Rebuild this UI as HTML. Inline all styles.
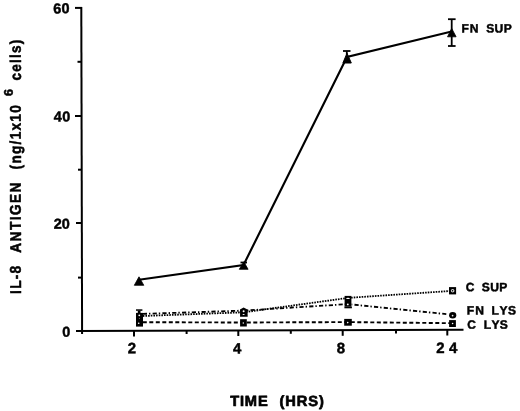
<!DOCTYPE html>
<html><head><meta charset="utf-8">
<style>
html,body{margin:0;padding:0;background:#fff;}
body{width:520px;height:411px;overflow:hidden;}
svg{display:block;}
text{font-family:"Liberation Sans",sans-serif;font-weight:bold;fill:#000;}
</style></head>
<body>
<svg width="520" height="411" viewBox="0 0 520 411">
<rect width="520" height="411" fill="#fff"/>
<g class="t" stroke="#000" stroke-linejoin="round" opacity="0.999">
<text font-size="14.5" transform="translate(53.19,13.39) rotate(-0.17) scale(1.000,1)" x="0.00 8.21" y="0" stroke-width="0.45">60</text>
<text font-size="14.5" transform="translate(53.76,121.54) rotate(-0.17) scale(1.000,1)" x="0.00 8.45" y="0" stroke-width="0.45">40</text>
<text font-size="14.5" transform="translate(53.72,228.74) rotate(-0.17) scale(1.000,1)" x="0.00 8.08" y="0" stroke-width="0.45">20</text>
<text font-size="14.5" transform="translate(62.15,336.74) rotate(-0.17) scale(1.000,1)" x="0.00" y="0" stroke-width="0.45">0</text>
<text font-size="15" transform="translate(127.80,353.29) rotate(-0.17) scale(1.000,1)" x="0.00" y="0" stroke-width="0.45">2</text>
<text font-size="15" transform="translate(232.90,353.41) rotate(-0.17) scale(1.000,1)" x="0.00" y="0" stroke-width="0.45">4</text>
<text font-size="15" transform="translate(336.75,353.16) rotate(-0.17) scale(1.000,1)" x="0.00" y="0" stroke-width="0.45">8</text>
<text font-size="15" transform="translate(436.20,352.99) rotate(-0.17) scale(1.000,1)" x="0.00" y="0" stroke-width="0.45">2</text>
<text font-size="15" transform="translate(449.00,352.91) rotate(-0.17) scale(1.000,1)" x="0.00" y="0" stroke-width="0.45">4</text>
<text font-size="14.7" transform="translate(230.18,406.11) rotate(-0.17) scale(1.000,1)" x="0.00 9.79 14.68 27.73" y="0" stroke-width="0.7">TIME</text>
<text font-size="14.7" transform="translate(279.52,406.11) rotate(-0.17) scale(1.000,1)" x="0.00 5.80 17.33 28.85 39.57" y="0" stroke-width="0.7">(HRS)</text>
<text font-size="12.1" transform="translate(461.62,32.56) rotate(-0.17) scale(1.000,1)" x="0.00 8.24" y="0" stroke-width="0.45">FN</text>
<text font-size="12.1" transform="translate(486.18,32.56) rotate(-0.17) scale(1.000,1)" x="0.00 8.44 17.54" y="0" stroke-width="0.45">SUP</text>
<text font-size="12.1" transform="translate(465.83,291.31) rotate(-0.17) scale(1.000,1)" x="0.00" y="0" stroke-width="0.45">C</text>
<text font-size="12.1" transform="translate(481.78,291.31) rotate(-0.17) scale(1.000,1)" x="0.00 8.44 17.54" y="0" stroke-width="0.45">SUP</text>
<text font-size="12.1" transform="translate(466.72,314.56) rotate(-0.17) scale(1.000,1)" x="0.00 8.44" y="0" stroke-width="0.45">FN</text>
<text font-size="12.1" transform="translate(491.52,314.56) rotate(-0.17) scale(1.000,1)" x="0.00 7.89 16.46" y="0" stroke-width="0.45">LYS</text>
<text font-size="12.1" transform="translate(467.33,328.76) rotate(-0.17) scale(1.000,1)" x="0.00" y="0" stroke-width="0.45">C</text>
<text font-size="12.1" transform="translate(483.82,328.76) rotate(-0.17) scale(1.000,1)" x="0.00 7.69 16.06" y="0" stroke-width="0.45">LYS</text>
<text font-size="15.5" transform="translate(20.93,293.94) rotate(-90.17) scale(0.880,1)" x="0.00 5.76 16.68 23.29" y="0" stroke-width="0.55">IL-8</text>
<text font-size="15.5" transform="translate(20.93,252.76) rotate(-90.17) scale(0.880,1)" x="0.00 12.87 25.73 36.87 42.85 56.58 68.59" y="0" stroke-width="0.55">ANTIGEN</text>
<text font-size="15.5" transform="translate(20.93,169.40) rotate(-90.17) scale(0.880,1)" x="0.00 6.60 17.50 28.41 34.15 44.21 54.26 64.32" y="0" stroke-width="0.55">(ng/1x10</text>
<text font-size="12.5" transform="translate(12.65,95.98) rotate(-90.17) scale(1.000,1)" x="0.00" y="0" stroke-width="0.55">6</text>
<text font-size="15.5" transform="translate(20.93,80.46) rotate(-90.17) scale(0.880,1)" x="0.00 9.96 19.91 25.56 31.20 41.16" y="0" stroke-width="0.55">cells)</text>
</g>
<!-- axes -->
<g stroke="#000" stroke-width="2" fill="none">
  <line x1="81.3" y1="7" x2="82.1" y2="334"/>
  <line x1="76" y1="331" x2="463.5" y2="329.8"/>
  <!-- y major ticks -->
  <line x1="75" y1="7.9" x2="82" y2="7.9"/>
  <line x1="75" y1="116" x2="82" y2="116"/>
  <line x1="76" y1="223" x2="82" y2="223"/>
  <!-- y minor ticks -->
  <line x1="77.5" y1="61.8" x2="82" y2="61.8"/>
  <line x1="78" y1="169.7" x2="82" y2="169.7"/>
  <line x1="78" y1="277.6" x2="82" y2="277.6"/>
  <!-- x major ticks -->
  <line x1="134" y1="331" x2="134" y2="336.5"/>
  <line x1="238.3" y1="330.6" x2="238.3" y2="336"/>
  <line x1="342.7" y1="330.3" x2="342.7" y2="335.8"/>
  <line x1="447.3" y1="330" x2="447.3" y2="335.5"/>
  <!-- x minor ticks -->
  <line x1="186.6" y1="330.8" x2="186.6" y2="334"/>
  <line x1="290.8" y1="330.5" x2="290.8" y2="333.8"/>
  <line x1="396" y1="330.1" x2="396" y2="333.5"/>
</g>
<!-- FN SUP -->
<polyline points="139,279.7 243.5,265 347,57 451.6,31.6" fill="none" stroke="#000" stroke-width="2.1"/>
<g fill="#000">
  <polygon points="139,276.8 134.3,285.3 143.8,285.3" stroke="#000" stroke-width="0.8" stroke-linejoin="round"/>
  <polygon points="243.8,261.8 239.3,269.3 248.1,269.3" stroke="#000" stroke-width="0.8" stroke-linejoin="round"/>
  <polygon points="347,53.2 342.9,63 351.3,63" stroke="#000" stroke-width="1" stroke-linejoin="round"/>
  <polygon points="451.7,28.4 447.5,36.8 456.1,36.8" stroke="#000" stroke-width="0.8" stroke-linejoin="round"/>
</g>
<g stroke="#000" stroke-width="1.8" fill="none">
  <line x1="240.5" y1="262.5" x2="247" y2="262.5"/>
  <line x1="343" y1="51" x2="350.5" y2="51"/><line x1="346.8" y1="51" x2="346.8" y2="55"/>
  <line x1="448" y1="19.2" x2="455.6" y2="19.2"/><line x1="448" y1="46" x2="455.6" y2="46"/>
  <line x1="451.7" y1="19.2" x2="451.7" y2="46"/>
</g>
<!-- C LYS dashed -->
<polyline points="142.8,322.2 243.6,322.5 348,322.1 452.8,323.2" fill="none" stroke="#000" stroke-width="1.9" stroke-dasharray="4 2.5"/>
<!-- C SUP dotted -->
<polyline points="142.8,316 243.6,312.3 348,297.9 452.8,290.8" fill="none" stroke="#000" stroke-width="1.8" stroke-dasharray="1.6 1.05"/>
<!-- FN LYS dash-dot -->
<polyline points="142.8,313.9 243.6,310.6 348,304.1" fill="none" stroke="#000" stroke-width="1.8" stroke-dasharray="4.2 2 1.4 2.2"/>
<polyline points="351.6,304.47 446.3,314.14" fill="none" stroke="#000" stroke-width="1.8" stroke-dasharray="4.2 2 1.4 2.2" stroke-dashoffset="6.9"/>
<!-- markers -->
<g fill="#000">
  <!-- x=2 stack -->
  <rect x="136" y="309.3" width="6.4" height="1.5"/>
  <rect x="137.8" y="310.6" width="2.7" height="2.5"/>
  <rect x="136" y="312.9" width="7" height="13.7"/>
  <!-- x=4 -->
  <polygon points="243.6,307.4 247.5,309.5 247.7,316.7 240.1,316.7 240,309.5"/>
  <rect x="240.1" y="319.2" width="6.7" height="7.3"/>
  <!-- x=8 -->
  <rect x="344.6" y="295.9" width="6.8" height="10.8"/>
  <rect x="344.4" y="306.6" width="7.5" height="1.7"/>
  <rect x="344.2" y="318.9" width="7.6" height="6.8"/>
  <!-- x=24 -->
  <rect x="449" y="287.1" width="7.1" height="7.3"/>
  <ellipse cx="452.7" cy="315.2" rx="3.6" ry="3.2"/>
  <rect x="449.1" y="320.1" width="6.8" height="6.9"/>
</g>
<g fill="#fff">
  <circle cx="139.3" cy="315.3" r="0.9"/>
  <circle cx="139.3" cy="318.4" r="0.4"/>
  <circle cx="138.7" cy="323.2" r="0.8"/>
  <circle cx="243.6" cy="311.3" r="1"/>
  <ellipse cx="243.6" cy="314.4" rx="1.1" ry="0.5"/>
  <circle cx="243.3" cy="323" r="0.7"/>
  <ellipse cx="348" cy="298.4" rx="1.8" ry="0.7"/>
  <circle cx="347.8" cy="304.4" r="0.9"/>
  <circle cx="347.7" cy="322.6" r="0.8"/>
  <circle cx="452.65" cy="290.75" r="1.8" fill="#d8d8d8"/>
  <circle cx="452.6" cy="315.6" r="0.85" fill="#eee"/>
  <circle cx="452.6" cy="323.5" r="0.8"/>
</g>
<g fill="#000">
  <circle cx="452.55" cy="290.85" r="0.75"/>
</g>

</svg>
</body></html>
